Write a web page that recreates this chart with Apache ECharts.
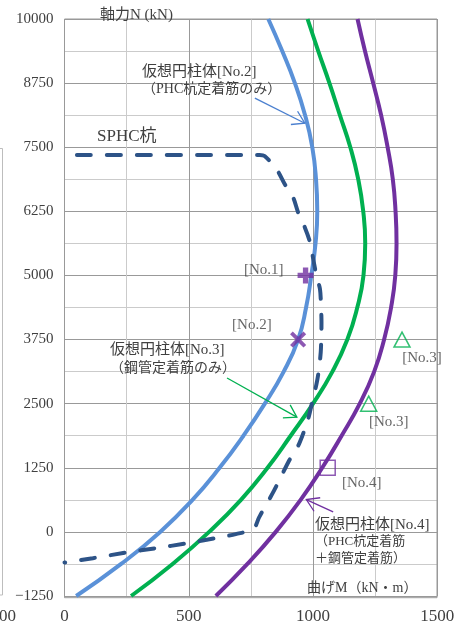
<!DOCTYPE html>
<html>
<head>
<meta charset="utf-8">
<script src="https://cdn.jsdelivr.net/npm/echarts@6/dist/echarts.min.js"></script>
<style>
  html, body { margin: 0; padding: 0; background: #fff; }
  #chart { width: 470px; height: 625px; }
</style>
</head>
<body>
<div id="chart"></div>
<script>
// Axial force N (kN) vs bending moment M (kN·m) interaction curves
const xTicks = [0, 500, 1000, 1500];
const yTicks = [-1250, 0, 1250, 2500, 3750, 5000, 6250, 7500, 8750, 10000];

// Virtual cylinder No.2 (PHC pile anchor bars only) — [M, N]
const curveNo2 = [[820,10000],[876,9375],[927,8750],[968,8125],[997,7500],[1012,6875],[1017,6250],[1010,5625],[993,5000],[972,4375],[940,3750],[882,3125],[806,2500],[720,1875],[624,1250],[515,625],[385,0],[228,-625],[47,-1250]];
// Virtual cylinder No.3 (steel pipe anchor bars only)
const curveNo3 = [[978,10000],[1021,9375],[1066,8750],[1108,8125],[1150,7500],[1182,6875],[1202,6250],[1210,5625],[1203,5000],[1178,4375],[1138,3750],[1078,3125],[1000,2500],[910,1875],[817,1250],[710,625],[582,0],[435,-625],[268,-1250]];
// Virtual cylinder No.4 (PHC anchor bars + steel pipe anchor bars)
const curveNo4 = [[1179,10000],[1209,9375],[1242,8750],[1274,8125],[1300,7500],[1321,6875],[1332,6250],[1336,5625],[1331,5000],[1314,4375],[1286,3750],[1246,3125],[1188,2500],[1115,1875],[1037,1250],[950,625],[850,0],[736,-625],[609,-1250]];
// SPHC pile
const curveSPHC = [[50,7350],[785,7350],[805,7330],[854,7065],[887,6773],[920,6520],[940,6229],[967,5937],[988,5645],[1001,5315],[1014,4990],[1028,4732],[1032,4407],[1034,4090],[1033,3760],[1031,3507],[1024,3174],[1014,2884],[998,2560],[980,2200],[944,1717],[904,1391],[843,804],[783,283],[760,60],[689,-43],[622,-109],[489,-226],[368,-317],[248,-402],[114,-513],[0,-598]];

// Test specimens
const ptNo1 = [[970, 5000]];
const ptNo2 = [[940, 3750]];
const ptNo3 = [[1358, 3750], [1224, 2500]];
const ptNo4 = [[1059, 1250]];

// Annotation leaders [from, to] in data space
const leaderNo2 = [[766, 8458], [967, 7968]];
const leaderNo3 = [[654, 3001], [935, 2237]];
const leaderNo4 = [[1081, 391], [973, 630]];

const SERIF = "'Liberation Serif', 'Noto Sans CJK JP', serif";
const TXT = '#404040';
const BLUE = '#5a91d8', GREEN = '#00b050', PURPLE = '#7030a0', NAVY = '#2d5387';

const chart = echarts.init(document.getElementById('chart'), null, { renderer: 'canvas' });

const plusPath = 'path://M-1,-3H1V-1H3V1H1V3H-1V1H-3V-1H-1Z';
const crossPath = 'path://M-0.6,-3H0.6V-0.6H3V0.6H0.6V3H-0.6V0.6H-3V-0.6H-0.6Z';

function fmtTick(v) { return String(v).replace('-', '\u2212'); }

const labelBase = { show: true, color: TXT, fontFamily: SERIF, fontSize: 15 };

const option = {
  animation: false,
  backgroundColor: '#fff',
  grid: { left: 64.5, right: 32.7, top: 19, bottom: 27.3, containLabel: false },
  xAxis: {
    type: 'value', min: xTicks[0], max: xTicks[xTicks.length - 1], interval: 500,
    axisLine: { show: false }, axisTick: { show: false },
    axisLabel: { color: TXT, fontFamily: SERIF, fontSize: 17, margin: 12, formatter: fmtTick },
    splitLine: { show: true, lineStyle: { color: '#999', width: 1 } },
    minorTick: { show: false, splitNumber: 2 },
    minorSplitLine: { show: true, lineStyle: { color: '#cbcbcb', width: 1 } }
  },
  yAxis: {
    type: 'value', min: yTicks[0], max: yTicks[yTicks.length - 1], interval: 1250,
    axisLine: { show: false }, axisTick: { show: false },
    axisLabel: { color: TXT, fontFamily: SERIF, fontSize: 15, margin: 11, formatter: fmtTick },
    splitLine: { show: true, lineStyle: { color: '#999', width: 1 } },
    minorTick: { show: false, splitNumber: 2 },
    minorSplitLine: { show: true, lineStyle: { color: '#cbcbcb', width: 1 } }
  },
  series: [
    { name: 'No.2', type: 'line', data: curveNo2, smooth: 0.5, showSymbol: false,
      lineStyle: { color: BLUE, width: 4 }, z: 3 },
    { name: 'No.3', type: 'line', data: curveNo3, smooth: 0.5, showSymbol: false,
      lineStyle: { color: GREEN, width: 4 }, z: 3 },
    { name: 'No.4', type: 'line', data: curveNo4, smooth: 0.5, showSymbol: false,
      lineStyle: { color: PURPLE, width: 4 }, z: 3 },
    { name: 'SPHC', type: 'line', data: curveSPHC, smooth: 0.3, showSymbol: false,
      lineStyle: { color: NAVY, width: 4, type: [14, 16], cap: 'round' }, z: 4 },
    { type: 'scatter', data: ptNo1, symbol: plusPath, symbolSize: 16, z: 6,
      itemStyle: { color: PURPLE },
      label: Object.assign({}, labelBase, { formatter: '[No.1]', position: 'left', distance: 14, offset: [0, -5] }) },
    { type: 'scatter', data: ptNo2, symbol: crossPath, symbolSize: 19, symbolRotate: 45, z: 6,
      itemStyle: { color: PURPLE },
      label: Object.assign({}, labelBase, { formatter: '[No.2]', position: 'left', distance: 13, offset: [0, -14] }) },
    { type: 'scatter', data: ptNo3, symbol: 'triangle', symbolSize: [16, 15], z: 6,
      itemStyle: { color: 'rgba(255,255,255,0)', borderColor: GREEN, borderWidth: 1.5 },
      label: Object.assign({}, labelBase, { formatter: '[No.3]', position: 'bottom', distance: 3, offset: [20, 0] }) },
    { type: 'scatter', data: ptNo4, symbol: 'rect', symbolSize: 15, z: 6,
      itemStyle: { color: 'rgba(255,255,255,0)', borderColor: PURPLE, borderWidth: 1.5 },
      label: Object.assign({}, labelBase, { formatter: '[No.4]', position: 'bottom', distance: 0, offset: [34, 0] }) }
  ],
  graphic: []
};
chart.setOption(option);

// Leader arrows with open heads, placed via the grid's coordinate conversion
function arrow(seg, color) {
  const a = chart.convertToPixel({ gridIndex: 0 }, seg[0]);
  const b = chart.convertToPixel({ gridIndex: 0 }, seg[1]);
  const ang = Math.atan2(a[1] - b[1], a[0] - b[0]);
  const len = 14, spread = 32 * Math.PI / 180;
  const w1 = [b[0] + len * Math.cos(ang + spread), b[1] + len * Math.sin(ang + spread)];
  const w2 = [b[0] + len * Math.cos(ang - spread), b[1] + len * Math.sin(ang - spread)];
  return [
    { type: 'polyline', shape: { points: [a, b] }, style: { stroke: color, lineWidth: 1.3, fill: null }, z: 10 },
    { type: 'polyline', shape: { points: [w1, b, w2] }, style: { stroke: color, lineWidth: 1.3, fill: null }, z: 10 }
  ];
}

function text(x, y, s, size, align) {
  return { type: 'text', x: x, y: y, z: 10,
    style: { text: s, fill: TXT, font: size + 'px ' + SERIF, textAlign: align || 'left', textVerticalAlign: 'middle' } };
}

const g = [];
g.push(...arrow(leaderNo2, '#4a7fcf'));
g.push(...arrow(leaderNo3, GREEN));
g.push(...arrow(leaderNo4, PURPLE));
g.push(text(100, 15, '軸力N (kN)', 15));
g.push(text(307, 588, '曲げM（kN・m）', 14));
g.push(text(142, 72, '仮想円柱体[No.2]', 15));
g.push(text(142, 89, '（PHC杭定着筋のみ）', 14));
g.push(text(97, 137, 'SPHC杭', 17));
g.push(text(110, 350, '仮想円柱体[No.3]', 15));
g.push(text(110, 368, '（鋼管定着筋のみ）', 14));
g.push(text(315, 525, '仮想円柱体[No.4]', 15));
g.push(text(315, 542, '（PHC杭定着筋', 13));
g.push(text(315, 559, '＋鋼管定着筋）', 13));
// plot frame
g.push({ type: 'rect', shape: { x: 64.5, y: 19, width: 372.5, height: 578.7 }, style: { stroke: '#999', fill: null, lineWidth: 1 }, z: 1 });
// neighbouring panel edge at the left margin
g.push({ type: 'rect', shape: { x: -20, y: 148.5, width: 22.5, height: 446.5 }, style: { stroke: '#bdbdbd', fill: null, lineWidth: 1 }, z: 1 });
g.push(text(-1, 617, '00', 17));
chart.setOption({ graphic: g });
</script>
</body>
</html>
